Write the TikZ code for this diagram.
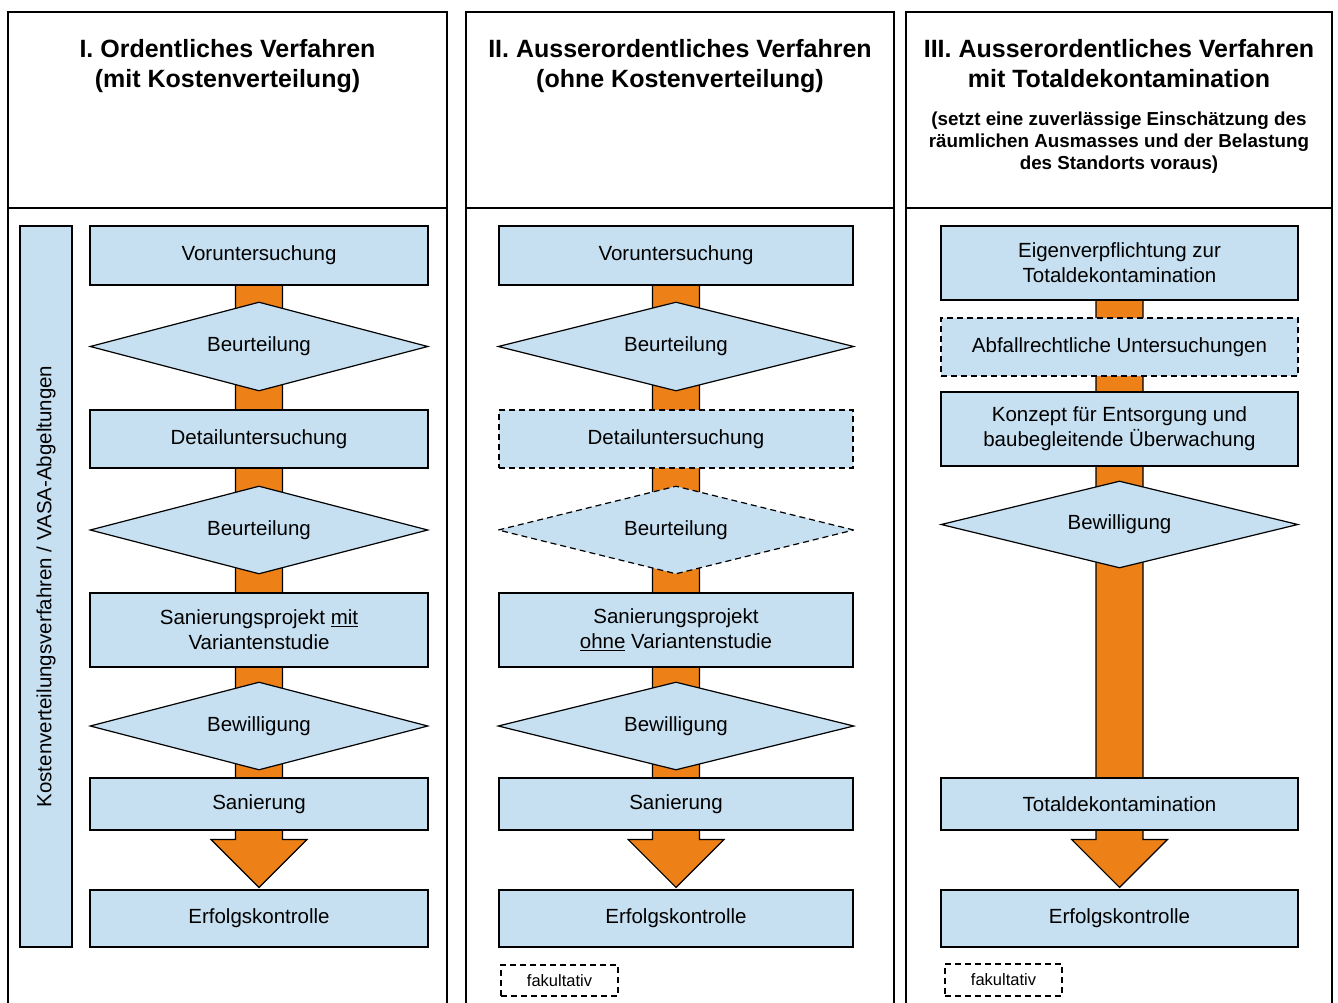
\documentclass[tikz,border=0pt]{standalone}
\usepackage{fontspec}
\setmainfont{Liberation Sans}
\usetikzlibrary{shapes.geometric,calc,backgrounds}

\definecolor{kastenblau}{RGB}{198,224,241}
\definecolor{pfeilorange}{RGB}{237,128,22}

% breiter Flusspfeil von Kasten #1 bis Kasten #2
\newcommand{\flusspfeil}[2]{%
  \begin{scope}[on background layer]
  \filldraw[pfeil] ($(#1.center)+(-23.5,0)$) -- ($(#2.north)+(-23.5,-50)$)
    -- ($(#2.north)+(-48,-50)$) -- ($(#2.north)+(0,-2)$) -- ($(#2.north)+(48,-50)$)
    -- ($(#2.north)+(23.5,-50)$) -- ($(#1.center)+(23.5,0)$) -- cycle;
  \end{scope}}

\begin{document}
\begin{tikzpicture}[x=1pt, y=-1pt,
  spalte/.style={line width=1.4pt},
  titel/.style={align=center, font=\fontsize{25}{30}\selectfont\bfseries},
  untertitel/.style={align=center, font=\fontsize{18.8}{22}\selectfont\bfseries},
  prozess/.style={draw, line width=1.2pt, fill=kastenblau, minimum width=\colw, inner sep=0pt,
    align=center, font=\fontsize{20.5}{25}\selectfont},
  entscheid/.style={prozess, diamond, shape aspect=3.8, minimum width=\colw},
  optional/.style={dash pattern=on 6pt off 4pt},
  pfeil/.style={fill=pfeilorange, draw=black, line width=1.2pt, line join=miter}]
\useasboundingbox (0,0) rectangle (1338,1003);

% Spalten
\draw[spalte] (8,1006) -- (8,12) -- (447,12) -- (447,1006);
\draw[spalte] (8,208) -- (447,208);
\draw[spalte] (466,1006) -- (466,12) -- (894,12) -- (894,1006);
\draw[spalte] (466,208) -- (894,208);
\draw[spalte] (906,1006) -- (906,12) -- (1332,12) -- (1332,1006);
\draw[spalte] (906,208) -- (1332,208);

% Titel
\node[titel] (t1) at (227.5,66) {I. Ordentliches Verfahren\\(mit Kostenverteilung)};
\node[titel] (t2) at (680,66) {II. Ausserordentliches Verfahren\\(ohne Kostenverteilung)};
\node[titel] (t3) at (1119,64) {III. Ausserordentliches Verfahren\\mit Totaldekontamination};
\node[untertitel] (u3) at (1119,143) {(setzt eine zuverlässige Einschätzung des\\räumlichen Ausmasses und der Belastung\\des Standorts voraus)};

% I. Ordentliches Verfahren
\def\colw{338pt}
\node[prozess, rotate=90, minimum width=721pt, minimum height=52pt] (kv) at (46,586.5) {Kostenverteilungsverfahren / VASA-Abgeltungen};
\node[prozess, minimum height=59pt] (vor1) at (259,255.5) {Voruntersuchung};
\node[entscheid, minimum height=89pt] (beu1) at (259,346.5) {Beurteilung};
\node[prozess, minimum height=58pt] (det1) at (259,439) {Detailuntersuchung};
\node[entscheid, minimum height=88pt] (beu2) at (259,530) {Beurteilung};
\node[prozess, minimum height=74pt] (pro1) at (259,630) {Sanierungsprojekt \underline{mit}\\Variantenstudie};
\node[entscheid, minimum height=88pt] (bew1) at (259,726) {Bewilligung};
\node[prozess, minimum height=52pt] (san1) at (259,804) {Sanierung};
\node[prozess, minimum height=57pt] (erf1) at (259,918.5) {Erfolgskontrolle};
\flusspfeil{vor1}{erf1}

% II. Ausserordentliches Verfahren
\def\colw{354pt}
\node[prozess, minimum height=59pt] (vor2) at (676,255.5) {Voruntersuchung};
\node[entscheid, minimum width=356pt, minimum height=89pt] (beu3) at (676,346.5) {Beurteilung};
\node[prozess, optional, minimum height=58pt] (det2) at (676,439) {Detailuntersuchung};
\node[entscheid, optional, minimum width=356pt, minimum height=88pt] (beu4) at (676,530) {Beurteilung};
\node[prozess, minimum height=74pt] (pro2) at (676,630) {Sanierungsprojekt\\\underline{ohne} Variantenstudie};
\node[entscheid, minimum width=356pt, minimum height=88pt] (bew2) at (676,726) {Bewilligung};
\node[prozess, minimum height=52pt] (san2) at (676,804) {Sanierung};
\node[prozess, minimum height=57pt] (erf2) at (676,918.5) {Erfolgskontrolle};
\flusspfeil{vor2}{erf2}
\node[draw, optional, line width=1.2pt, minimum width=117pt, minimum height=31pt, font=\fontsize{16.5}{20}\selectfont] (fak2) at (559.5,980.5) {fakultativ};

% III. Totaldekontamination
\def\colw{357pt}
\node[prozess, minimum height=74pt] (eig3) at (1119.5,263) {Eigenverpflichtung zur\\Totaldekontamination};
\node[prozess, optional, minimum height=58pt] (abf3) at (1119.5,347) {Abfallrechtliche Untersuchungen};
\node[prozess, minimum height=74pt] (kon3) at (1119.5,429) {Konzept für Entsorgung und\\baubegleitende Überwachung};
\node[entscheid, minimum height=87pt] (bew3) at (1119.5,524.5) {Bewilligung};
\node[prozess, minimum height=52pt] (tot3) at (1119.5,804) {Totaldekontamination};
\node[prozess, minimum height=57pt] (erf3) at (1119.5,918.5) {Erfolgskontrolle};
\flusspfeil{eig3}{erf3}
\node[draw, optional, line width=1.2pt, minimum width=117pt, minimum height=32pt, font=\fontsize{16.5}{20}\selectfont] (fak3) at (1003.5,980) {fakultativ};
\end{tikzpicture}
\end{document}
